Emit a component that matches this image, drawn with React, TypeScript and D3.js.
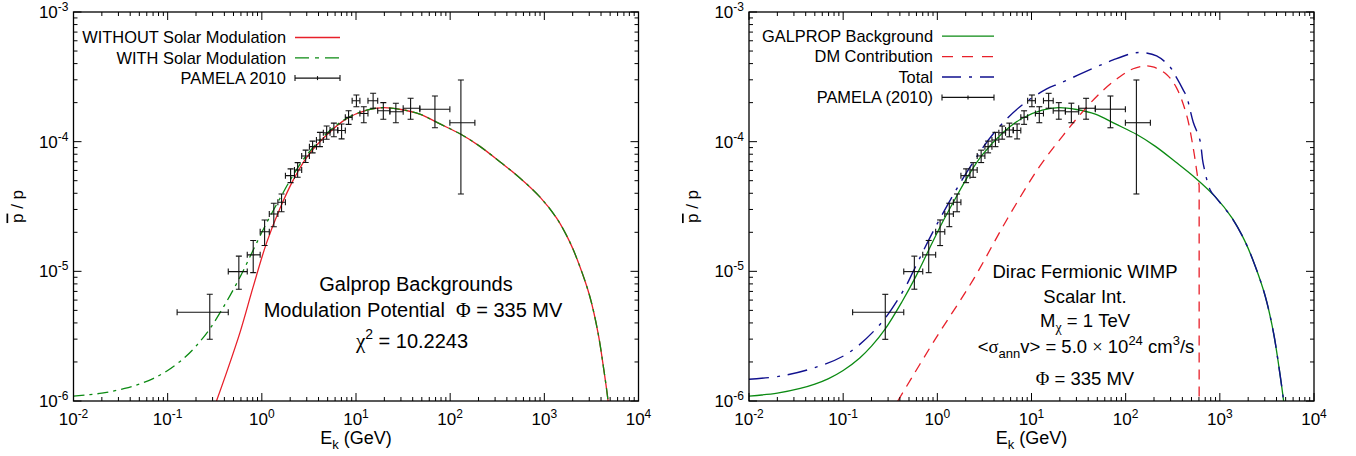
import React from "react";
import * as d3 from "d3";

// ---------------- data ----------------
// GALPROP background with solar modulation (Phi = 335 MV): energy (GeV) and pbar/p
const bgE = [0.01, 0.02, 0.035, 0.05, 0.07, 0.1, 0.15, 0.2, 0.28, 0.42, 0.59, 0.81, 1.12, 1.56, 2.16, 3.0, 4.9, 7.9, 13, 19.5, 30, 47.6, 78, 130, 207, 337, 550, 896, 1346, 1866, 2383, 3041, 3725, 4285, 4755, 5000];
const bgR = [1.09e-6, 1.15e-6, 1.25e-6, 1.35e-6, 1.49e-6, 1.72e-6, 2.15e-6, 2.65e-6, 3.6e-6, 5.8e-6, 9.1e-6, 1.46e-5, 2.35e-5, 3.66e-5, 5.54e-5, 7.9e-5, 1.16e-4, 1.51e-4, 1.75e-4, 1.83e-4, 1.77e-4, 1.63e-4, 1.37e-4, 1.14e-4, 9.2e-5, 7.0e-5, 5.25e-5, 3.75e-5, 2.58e-5, 1.68e-5, 1.09e-5, 6.4e-6, 3.33e-6, 1.74e-6, 1.0e-6, 7e-7];

// Without solar modulation (low-energy part; above 13 GeV it coincides with bg)
const noModE = [0.33, 0.42, 0.59, 0.81, 1.12, 1.56, 2.16, 3.0, 4.9, 7.9];
const noModR = [1.0e-6, 1.64e-6, 3.43e-6, 7.62e-6, 1.65e-5, 3.06e-5, 5.07e-5, 7.58e-5, 1.13e-4, 1.5e-4];

// DM contribution (ends abruptly at ~600 GeV)
const dmE = [0.38, 0.94, 2.4, 5.45, 12.3, 21.7, 32.7, 53.2, 86.7, 120, 160, 200, 272, 347, 444, 521, 580, 603];
const dmR = [1.0e-6, 2.96e-6, 8.6e-6, 2.49e-5, 6.5e-5, 1.12e-4, 1.61e-4, 2.36e-4, 3.17e-4, 3.65e-4, 3.84e-4, 3.75e-4, 3.3e-4, 2.6e-4, 1.6e-4, 9.0e-5, 5.4e-5, 4.6e-5];

// Total (background + DM), above ~800 GeV it coincides with bg
const totE = [0.01, 0.022, 0.05, 0.112, 0.254, 0.45, 0.555, 0.94, 2.05, 3.93, 7.54, 14.5, 20, 45.2, 73.6, 120, 153, 213, 294, 348, 408, 444, 521, 614, 665, 796];
const totR = [1.47e-6, 1.56e-6, 1.81e-6, 2.33e-6, 4.0e-6, 7.4e-6, 1.0e-5, 2.15e-5, 5.8e-5, 1.15e-4, 1.86e-4, 2.55e-4, 2.82e-4, 3.68e-4, 4.27e-4, 4.81e-4, 4.86e-4, 4.58e-4, 3.79e-4, 3.1e-4, 2.51e-4, 2.22e-4, 1.42e-4, 1.03e-4, 6.8e-5, 4.19e-5];

// PAMELA 2010 pbar/p
const pamE = [0.28, 0.57, 0.81, 1.07, 1.34, 1.62, 2.02, 2.4, 2.92, 3.46, 4.14, 4.88, 5.82, 7.03, 8.34, 10.1, 12.1, 15.2, 19.5, 26.5, 38, 68.9, 130];
const pamElo = [0.126, 0.44, 0.7, 0.96, 1.2, 1.48, 1.78, 2.22, 2.65, 3.2, 3.8, 4.5, 5.3, 6.4, 7.7, 9.1, 11.0, 13.4, 17.0, 22.9, 31.7, 47.6, 99.3];
const pamEhi = [0.44, 0.7, 0.96, 1.2, 1.48, 1.78, 2.22, 2.65, 3.2, 3.8, 4.5, 5.3, 6.4, 7.7, 9.1, 11.0, 13.4, 17.0, 22.9, 31.7, 47.6, 99.3, 183];
const pamR = [4.83e-6, 9.95e-6, 1.34e-5, 2.02e-5, 2.77e-5, 3.41e-5, 5.47e-5, 6.05e-5, 7.76e-5, 9.15e-5, 1.03e-4, 1.17e-4, 1.23e-4, 1.22e-4, 1.54e-4, 2.07e-4, 1.65e-4, 2.07e-4, 1.73e-4, 1.7e-4, 1.81e-4, 1.78e-4, 1.4e-4];
const pamRlo = [2.99e-6, 7.28e-6, 9.77e-6, 1.58e-5, 2.21e-5, 2.88e-5, 4.83e-5, 5.31e-5, 6.9e-5, 8.2e-5, 9.15e-5, 1.045e-4, 1.09e-4, 1.05e-4, 1.36e-4, 1.86e-4, 1.4e-4, 1.81e-4, 1.49e-4, 1.4e-4, 1.49e-4, 1.28e-4, 3.95e-5];
const pamRhi = [6.65e-6, 1.31e-5, 1.73e-5, 2.49e-5, 3.35e-5, 3.95e-5, 6.17e-5, 6.89e-5, 8.6e-5, 1.01e-4, 1.18e-4, 1.32e-4, 1.39e-4, 1.37e-4, 1.73e-4, 2.29e-4, 1.86e-4, 2.36e-4, 2.0e-4, 1.98e-4, 2.16e-4, 2.25e-4, 2.99e-4];

// tick labels (exponents)
const xTickExps = [-2, -1, 0, 1, 2, 3, 4];
const yTickExps = [-6, -5, -4, -3];

const leftLegend = ["WITHOUT Solar Modulation", "WITH Solar Modulation", "PAMELA 2010"];
const rightLegend = ["GALPROP Background", "DM Contribution", "Total", "PAMELA (2010)"];

// ---------------- styling ----------------
const FONT = "'Liberation Sans', Arial, Helvetica, sans-serif";
const SERIF = "'Liberation Serif', 'DejaVu Serif', serif";
const RED = "#e8202a";
const GREEN = "#0b8a12";
const BLUE = "#10108e";
const TOP = 12;
const BOTTOM = 401;

type Pt = [number, number];
const zip = (a: number[], b: number[]): Pt[] => a.map((v, i) => [v, b[i]]);

const bgPts = zip(bgE, bgR);
const noModPts = zip(noModE, noModR).concat(bgPts.filter((d) => d[0] >= 13));
const dmPts = zip(dmE, dmR);
const totPts = zip(totE, totR).concat(bgPts.filter((d) => d[0] > 800));

function Sup({ base, exp, x, y, anchor, size, supSize }: any) {
  return (
    <text x={x} y={y} textAnchor={anchor} fontSize={size} fontFamily={FONT} fill="#000">
      {base}
      <tspan dy={-7} fontSize={supSize}>{exp}</tspan>
    </text>
  );
}

function Panel({ id, left, right, children }: any) {
  const x = d3.scaleLog().domain([1e-2, 1e4]).range([left, right]);
  const y = d3.scaleLog().domain([1e-6, 1e-3]).range([BOTTOM, TOP]);
  const minorX: number[] = [];
  for (let e = -2; e < 4; e++) for (let m = 2; m <= 9; m++) minorX.push(m * Math.pow(10, e));
  const minorY: number[] = [];
  for (let e = -6; e < -3; e++) for (let m = 2; m <= 9; m++) minorY.push(m * Math.pow(10, e));
  const MJ = 8, MN = 4;
  const ticks: any[] = [];
  xTickExps.forEach((e) => {
    const px = x(Math.pow(10, e));
    ticks.push(<line key={"xb" + e} x1={px} x2={px} y1={BOTTOM} y2={BOTTOM - MJ} />);
    ticks.push(<line key={"xt" + e} x1={px} x2={px} y1={TOP} y2={TOP + MJ} />);
  });
  minorX.forEach((v, i) => {
    const px = x(v);
    ticks.push(<line key={"mxb" + i} x1={px} x2={px} y1={BOTTOM} y2={BOTTOM - MN} />);
    ticks.push(<line key={"mxt" + i} x1={px} x2={px} y1={TOP} y2={TOP + MN} />);
  });
  yTickExps.forEach((e) => {
    const py = y(Math.pow(10, e));
    ticks.push(<line key={"yl" + e} x1={left} x2={left + MJ} y1={py} y2={py} />);
    ticks.push(<line key={"yr" + e} x1={right} x2={right - MJ} y1={py} y2={py} />);
  });
  minorY.forEach((v, i) => {
    const py = y(v);
    ticks.push(<line key={"myl" + i} x1={left} x2={left + MN} y1={py} y2={py} />);
    ticks.push(<line key={"myr" + i} x1={right} x2={right - MN} y1={py} y2={py} />);
  });
  const line = d3
    .line<Pt>()
    .x((d) => x(d[0]))
    .y((d) => y(d[1]))
    .curve(d3.curveCatmullRom.alpha(0.5));
  const cx = (left + right) / 2;
  return (
    <g>
      <defs>
        <clipPath id={"clip" + id}>
          <rect x={left} y={TOP} width={right - left} height={BOTTOM - TOP} />
        </clipPath>
      </defs>
      <g clipPath={`url(#clip${id})`}>{children({ x, y, line })}</g>
      <g stroke="#000" strokeWidth={1}>{ticks}</g>
      <rect x={left} y={TOP} width={right - left} height={BOTTOM - TOP} fill="none" stroke="#000" strokeWidth={1.3} />
      {xTickExps.map((e) => (
        <Sup key={"xl" + e} base="10" exp={String(e)} x={x(Math.pow(10, e))} y={425} anchor="middle" size={17} supSize={12} />
      ))}
      {yTickExps.map((e) => (
        <Sup key={"yl" + e} base="10" exp={String(e)} x={left - 5} y={y(Math.pow(10, e)) + 6} anchor="end" size={17} supSize={12} />
      ))}
      <text x={cx} y={444} textAnchor="middle" fontSize={18} fontFamily={FONT}>
        E<tspan dy={5} fontSize={13}>k</tspan>
        <tspan dy={-5}> (GeV)</tspan>
      </text>
      <text
        transform={`translate(${left - 51},${(TOP + BOTTOM) / 2}) rotate(-90)`}
        textAnchor="middle"
        fontSize={17}
        fontFamily={FONT}
      >
        <tspan style={{ textDecoration: "overline" }}>p</tspan> / p
      </text>
    </g>
  );
}

function ErrBars({ x, y }: any) {
  const C = 3;
  return (
    <g stroke="#111" strokeWidth={1.1} fill="none">
      {pamE.map((e, i) => {
        const px = x(e);
        const py = y(pamR[i]);
        const ylo = y(pamRlo[i]);
        const yhi = y(pamRhi[i]);
        const xlo = x(pamElo[i]);
        const xhi = x(pamEhi[i]);
        return (
          <g key={i}>
            <line x1={px} x2={px} y1={ylo} y2={yhi} />
            <line x1={px - C} x2={px + C} y1={ylo} y2={ylo} />
            <line x1={px - C} x2={px + C} y1={yhi} y2={yhi} />
            <line x1={xlo} x2={xhi} y1={py} y2={py} />
            <line x1={xlo} x2={xlo} y1={py - C} y2={py + C} />
            <line x1={xhi} x2={xhi} y1={py - C} y2={py + C} />
          </g>
        );
      })}
    </g>
  );
}

function LegendBar({ x1, x2, y }: any) {
  const m = (x1 + x2) / 2;
  return (
    <g stroke="#111" strokeWidth={1.1}>
      <line x1={x1} x2={x2} y1={y} y2={y} />
      <line x1={x1} x2={x1} y1={y - 3} y2={y + 3} />
      <line x1={x2} x2={x2} y1={y - 3} y2={y + 3} />
      <line x1={m} x2={m} y1={y - 2} y2={y + 2} />
    </g>
  );
}

export default function App() {
  const LDASH = "11,5,3,5";
  const RDASH = "10,7";
  const BDASH = "20,8,3,8";
  const lBase = [43.3, 63.6, 83.9];
  const rBase = [42, 62.4, 82.8, 103.2];
  return (
    <svg
      width={1356}
      height={456}
      style={{ position: "absolute", left: 0, top: 0, background: "#fff" }}
      fontFamily={FONT}
    >
      <rect width={1356} height={456} fill="#fff" />
      {/* Left panel */}
      <Panel id="L" left={73.5} right={638.5}>
        {({ x, y, line }: any) => (
          <g>
            <path d={line(noModPts)} fill="none" stroke={RED} strokeWidth={1.3} />
            <path d={line(bgPts)} fill="none" stroke={GREEN} strokeWidth={1.3} strokeDasharray={LDASH} />
            <ErrBars x={x} y={y} />
          </g>
        )}
      </Panel>
      {/* Left legend */}
      <g fontSize={16.4} textAnchor="end">
        {leftLegend.map((t, i) => (
          <text key={t} x={286} y={lBase[i]}>{t}</text>
        ))}
      </g>
      <line x1={295} x2={340} y1={lBase[0] - 5.8} y2={lBase[0] - 5.8} stroke={RED} strokeWidth={1.3} />
      <line x1={295} x2={340} y1={lBase[1] - 5.8} y2={lBase[1] - 5.8} stroke={GREEN} strokeWidth={1.3} strokeDasharray="14,6,4,6" />
      <LegendBar x1={295} x2={340} y={lBase[2] - 5.8} />
      {/* Left annotation */}
      <g fontSize={20} textAnchor="middle">
        <text x={416} y={291}>Galprop Backgrounds</text>
        <text x={413} y={317}>
          Modulation Potential{"\u00a0\u00a0"}
          <tspan fontFamily={SERIF}>Φ</tspan> = 335 MV
        </text>
        <text x={412} y={348}>
          <tspan fontFamily={SERIF} fontSize={21}>χ</tspan>
          <tspan dy={-9} fontSize={14}>2</tspan>
          <tspan dy={9}> = 10.2243</tspan>
        </text>
      </g>

      {/* Right panel */}
      <Panel id="R" left={749} right={1314}>
        {({ x, y, line }: any) => {
          const last = dmPts[dmPts.length - 1];
          return (
            <g>
              <path d={line(bgPts)} fill="none" stroke={GREEN} strokeWidth={1.3} />
              <path
                d={(line(dmPts) as string) + `L${x(last[0])},${BOTTOM + 5}`}
                fill="none"
                stroke={RED}
                strokeWidth={1.3}
                strokeDasharray={RDASH}
              />
              <path d={line(totPts)} fill="none" stroke={BLUE} strokeWidth={1.4} strokeDasharray={BDASH} />
              <ErrBars x={x} y={y} />
            </g>
          );
        }}
      </Panel>
      {/* Right legend */}
      <g fontSize={16.4} textAnchor="end">
        {rightLegend.map((t, i) => (
          <text key={t} x={933} y={rBase[i]}>{t}</text>
        ))}
      </g>
      <line x1={942} x2={994} y1={rBase[0] - 5.8} y2={rBase[0] - 5.8} stroke={GREEN} strokeWidth={1.3} />
      <line x1={942} x2={994} y1={rBase[1] - 5.8} y2={rBase[1] - 5.8} stroke={RED} strokeWidth={1.3} strokeDasharray="11,9" />
      <line x1={942} x2={994} y1={rBase[2] - 5.8} y2={rBase[2] - 5.8} stroke={BLUE} strokeWidth={1.4} strokeDasharray="19,8,3,8" />
      <LegendBar x1={942} x2={994} y={rBase[3] - 5.8} />
      {/* Right annotation */}
      <g fontSize={18.5} textAnchor="middle">
        <text x={1085} y={278}>Dirac Fermionic WIMP</text>
        <text x={1085} y={302.5}>Scalar Int.</text>
        <text x={1085} y={326.5}>
          M<tspan dy={5} fontSize={14} fontFamily={SERIF}>χ</tspan>
          <tspan dy={-5}> = 1 TeV</tspan>
        </text>
        <text x={1086} y={353}>
          {"<"}
          <tspan fontFamily={SERIF}>σ</tspan>
          <tspan dy={5} fontSize={13}>ann</tspan>
          <tspan dy={-5}>v{">"} = 5.0 </tspan>
          <tspan fontFamily={SERIF}>×</tspan>
          <tspan> 10</tspan>
          <tspan dy={-8} fontSize={13}>24</tspan>
          <tspan dy={8}> cm</tspan>
          <tspan dy={-8} fontSize={13}>3</tspan>
          <tspan dy={8}>/s</tspan>
        </text>
        <text x={1085} y={385}>
          <tspan fontFamily={SERIF}>Φ</tspan> = 335 MV
        </text>
      </g>
    </svg>
  );
}
